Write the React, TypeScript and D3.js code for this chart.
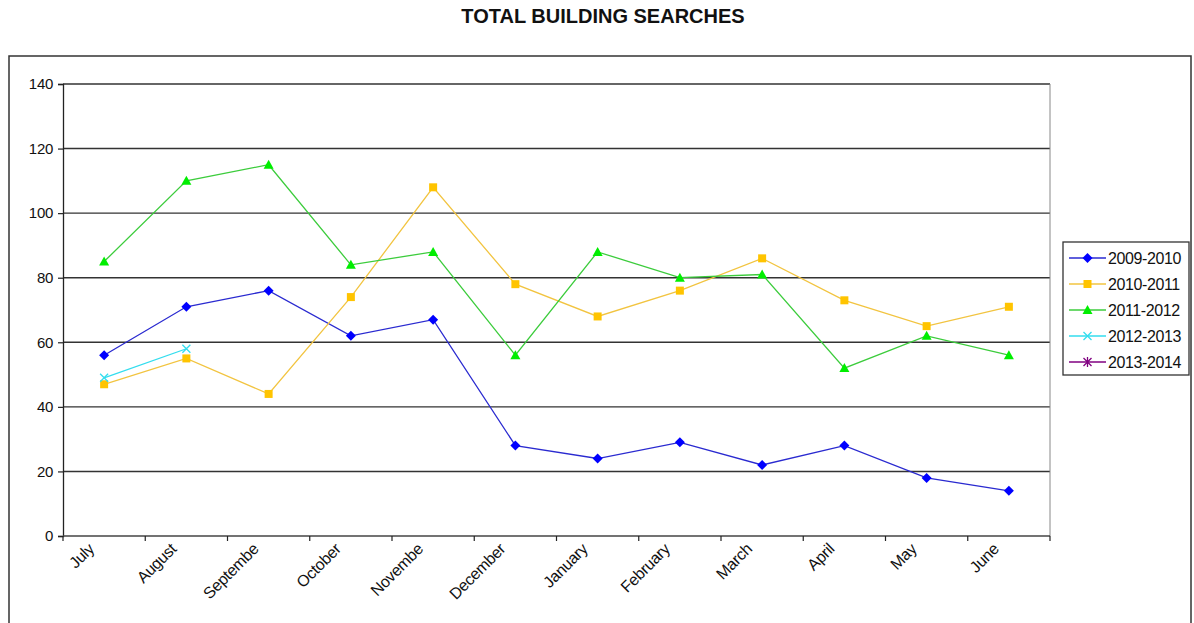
import React, { useEffect, useRef } from "react";
import * as d3 from "d3";

const months = ["July", "August", "Septembe", "October", "Novembe", "December", "January", "February", "March", "April", "May", "June"];
const yTicks = [0, 20, 40, 60, 80, 100, 120, 140];
const s2009 = [56, 71, 76, 62, 67, 28, 24, 29, 22, 28, 18, 14];
const s2010 = [47, 55, 44, 74, 108, 78, 68, 76, 86, 73, 65, 71];
const s2011 = [85, 110, 115, 84, 88, 56, 88, 80, 81, 52, 62, 56];
const s2012 = [49, 58];
const s2013: number[] = [];
const seriesNames = ["2009-2010", "2010-2011", "2011-2012", "2012-2013", "2013-2014"];

const W = 1194, H = 623;

export default function App() {
  const ref = useRef<SVGSVGElement>(null);
  useEffect(() => {
    const svg = d3.select(ref.current);
    svg.selectAll("*").remove();
    const font = "'Liberation Sans', Arial, sans-serif";
    const left = 63, right = 1050, top = 84, bottom = 536;
    const x = d3.scaleBand<string>().domain(months).range([left, right]);
    const y = d3.scaleLinear().domain([0, 140]).range([bottom, top]);

    svg.append("rect").attr("width", W).attr("height", H).attr("fill", "#fff");
    svg.append("text").attr("x", 603).attr("y", 23).attr("text-anchor", "middle")
      .attr("font-family", font).attr("font-weight", "bold").attr("font-size", 20)
      .attr("fill", "#111").text("TOTAL BUILDING SEARCHES");
    // outer frame
    svg.append("rect").attr("x", 9).attr("y", 56).attr("width", 1182).attr("height", 600)
      .attr("fill", "none").attr("stroke", "#333").attr("stroke-width", 1.5);

    // gridlines
    svg.append("g").selectAll("line").data(yTicks.filter(t => t > 0)).join("line")
      .attr("x1", left).attr("x2", right).attr("y1", d => y(d)).attr("y2", d => y(d))
      .attr("stroke", "#333").attr("stroke-width", 1.4);
    // right border of plot
    svg.append("line").attr("x1", right).attr("x2", right).attr("y1", top).attr("y2", bottom)
      .attr("stroke", "#888").attr("stroke-width", 1);

    // y axis
    const ya = svg.append("g").attr("transform", `translate(${left},0)`)
      .call(d3.axisLeft(y).tickValues(yTicks).tickSize(5).tickPadding(5));
    ya.select(".domain").attr("stroke", "#222").attr("stroke-width", 1.3);
    ya.selectAll(".tick line").attr("stroke", "#222").attr("stroke-width", 1.2);
    ya.selectAll("text").attr("font-family", font).attr("font-size", 15).attr("fill", "#111")
      .attr("letter-spacing", "-0.3px");

    // x axis
    const xa = svg.append("g").attr("transform", `translate(0,${bottom})`);
    xa.append("line").attr("x1", left).attr("x2", right).attr("stroke", "#444").attr("stroke-width", 1.5);
    const bounds = months.map((m, i) => left + i * x.bandwidth()).concat([right]);
    xa.selectAll("line.tk").data(bounds).join("line").attr("class", "tk")
      .attr("x1", d => d).attr("x2", d => d).attr("y1", 0).attr("y2", 5)
      .attr("stroke", "#222").attr("stroke-width", 1.2);
    xa.selectAll("text").data(months).join("text")
      .attr("transform", d => `translate(${(x(d) as number) + x.bandwidth() / 2 - 9},${14}) rotate(-45)`)
      .attr("text-anchor", "end").attr("font-family", font).attr("font-size", 16)
      .attr("letter-spacing", "-0.3px").attr("fill", "#111").text(d => d);

    const cx = (i: number) => (x(months[i]) as number) + x.bandwidth() / 2;
    const series = [
      { name: seriesNames[0], data: s2009, line: "#2a2ad0", fill: "#0000ff", shape: "diamond" },
      { name: seriesNames[1], data: s2010, line: "#f2c440", fill: "#ffc400", shape: "square" },
      { name: seriesNames[2], data: s2011, line: "#3ccc3c", fill: "#00ee00", shape: "triangle" },
      { name: seriesNames[3], data: s2012, line: "#33ddee", fill: "#33ddee", shape: "x" },
      { name: seriesNames[4], data: s2013, line: "#800080", fill: "#800080", shape: "star" },
    ];

    const drawMarker = (g: any, shape: string, px: number, py: number, fill: string) => {
      if (shape === "diamond") {
        g.append("path").attr("d", `M${px},${py - 5}L${px + 5},${py}L${px},${py + 5}L${px - 5},${py}Z`).attr("fill", fill);
      } else if (shape === "square") {
        g.append("rect").attr("x", px - 4).attr("y", py - 4).attr("width", 8).attr("height", 8).attr("fill", fill);
      } else if (shape === "triangle") {
        g.append("path").attr("d", `M${px},${py - 5}L${px + 5},${py + 4}L${px - 5},${py + 4}Z`).attr("fill", fill);
      } else if (shape === "x") {
        g.append("path").attr("d", `M${px - 4},${py - 4}L${px + 4},${py + 4}M${px - 4},${py + 4}L${px + 4},${py - 4}`)
          .attr("stroke", fill).attr("stroke-width", 1.3).attr("fill", "none");
      } else {
        g.append("path").attr("d", `M${px - 4},${py - 4}L${px + 4},${py + 4}M${px - 4},${py + 4}L${px + 4},${py - 4}M${px},${py - 5}L${px},${py + 5}`)
          .attr("stroke", fill).attr("stroke-width", 1.3).attr("fill", "none");
      }
    };

    const lineGen = d3.line<number>().x((d, i) => cx(i)).y(d => y(d));
    series.forEach(s => {
      const g = svg.append("g");
      if (s.data.length > 1) {
        g.append("path").attr("d", lineGen(s.data)).attr("fill", "none")
          .attr("stroke", s.line).attr("stroke-width", 1.3);
      }
      s.data.forEach((v, i) => drawMarker(g, s.shape, cx(i), y(v), s.fill));
    });

    // legend
    const lg = svg.append("g");
    lg.append("rect").attr("x", 1063).attr("y", 242).attr("width", 126).attr("height", 133)
      .attr("fill", "#fff").attr("stroke", "#333").attr("stroke-width", 1.3);
    series.forEach((s, i) => {
      const ly = 258 + i * 26;
      lg.append("line").attr("x1", 1069).attr("x2", 1106).attr("y1", ly).attr("y2", ly)
        .attr("stroke", s.line).attr("stroke-width", 1.3);
      drawMarker(lg, s.shape, 1087.5, ly, s.fill);
      lg.append("text").attr("x", 1108).attr("y", ly + 6).attr("font-family", font)
        .attr("font-size", 16).attr("letter-spacing", "-0.4px").attr("fill", "#111").text(s.name);
    });
  }, []);
  return (
    <svg ref={ref} width={W} height={H} style={{ position: "absolute", left: 0, top: 0 }} />
  );
}
